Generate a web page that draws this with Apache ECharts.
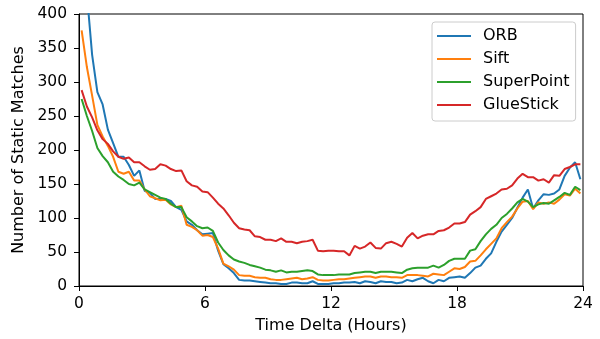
<!DOCTYPE html>
<html>
<head>
<meta charset="utf-8">
<script src="https://cdn.jsdelivr.net/npm/echarts@6/dist/echarts.min.js"></script>
<style>html,body{margin:0;padding:0;background:#fff}#c{width:600px;height:339px}</style>
</head>
<body>
<div id="c"></div>
<script>
const hours = [0.125,0.375,0.625,0.875,1.125,1.375,1.625,1.875,2.125,2.375,2.625,2.875,3.125,3.375,3.625,3.875,4.125,4.375,4.625,4.875,5.125,5.375,5.625,5.875,6.125,6.375,6.625,6.875,7.125,7.375,7.625,7.875,8.125,8.375,8.625,8.875,9.125,9.375,9.625,9.875,10.125,10.375,10.625,10.875,11.125,11.375,11.625,11.875,12.125,12.375,12.625,12.875,13.125,13.375,13.625,13.875,14.125,14.375,14.625,14.875,15.125,15.375,15.625,15.875,16.125,16.375,16.625,16.875,17.125,17.375,17.625,17.875,18.125,18.375,18.625,18.875,19.125,19.375,19.625,19.875,20.125,20.375,20.625,20.875,21.125,21.375,21.625,21.875,22.125,22.375,22.625,22.875,23.125,23.375,23.625,23.875];
const orb = [500,430,340,285,267,230,210,190,190,178,162,170,140,137,128,128,128,125,116,112,95,90,82,76,77,78,52,32,26,19,9,8,8,7,6,5,4,4,3,3,5,5,4,4,7,3,3,3,4,4,5,5,6,4,7,6,4,7,6,6,4,5,9,7,10,12,7,4,9,7,12,13,14,12,19,27,30,40,48,65,80,90,100,115,130,142,114,126,135,134,136,142,162,174,182,157];
const sift = [376,322,280,237,220,206,190,168,165,168,155,155,142,132,129,126,127,120,116,118,90,87,82,74,75,72,55,33,29,24,16,15,15,13,12,12,10,9,9,10,11,12,10,11,13,9,8,8,9,10,10,11,12,13,14,14,12,14,14,13,13,12,16,16,16,15,14,18,17,16,21,26,25,28,36,37,45,54,62,70,85,94,102,114,124,125,113,123,121,123,121,127,135,133,143,136];
const superPoint = [275,250,228,203,191,182,168,161,156,150,148,152,142,138,134,130,128,121,116,116,101,95,88,85,86,81,64,53,45,39,36,34,31,29,27,24,23,21,23,20,21,21,22,23,22,17,16,16,16,17,17,17,19,20,21,21,19,21,21,21,20,19,24,26,27,27,27,30,27,31,37,40,40,40,52,54,66,76,84,90,100,106,114,123,128,124,116,120,122,121,126,131,137,134,146,141];
const glueStick = [288,264,248,229,216,209,198,190,187,189,182,182,176,171,172,179,177,172,169,170,154,148,146,139,138,130,121,114,104,93,85,83,82,73,72,68,68,66,70,65,65,63,65,66,68,52,51,52,52,51,51,45,59,55,58,64,56,55,63,65,62,58,71,78,70,74,76,76,81,82,86,92,92,94,105,110,116,128,132,136,142,143,148,158,165,160,160,155,157,152,163,162,172,175,179,179];
const seriesNames = ['ORB','Sift','SuperPoint','GlueStick'];
const seriesValues = [orb, sift, superPoint, glueStick];
const colors = ['#1f77b4','#ff7f0e','#2ca02c','#d62728'];

const chart = echarts.init(document.getElementById('c'), null, {renderer:'canvas'});
const font = 'DejaVu Sans';
chart.setOption({
  animation:false,
  backgroundColor:'#fff',
  grid:{left:79,right:17,top:14,bottom:51,show:true,borderColor:'#000',borderWidth:1,backgroundColor:'transparent'},
  legend:{
    orient:'vertical', left:432, top:22,
    backgroundColor:'#fff', borderColor:'#cccccc', borderWidth:1, borderRadius:3,
    padding:[6,6,8,5], itemGap:7, itemWidth:34, itemHeight:2, icon:'rect',
    textStyle:{fontFamily:font,fontSize:16,color:'#000',lineHeight:16,padding:[0,0,0,7]},
    data:seriesNames
  },
  xAxis:{
    type:'value', min:0, max:24, interval:6,
    name:'Time Delta (Hours)', nameLocation:'middle', nameGap:32,
    nameTextStyle:{fontFamily:font,fontSize:16,color:'#000'},
    axisLine:{show:true,lineStyle:{color:'#000',width:1}},
    axisTick:{show:true,length:5,lineStyle:{color:'#000'}},
    axisLabel:{fontFamily:font,fontSize:15.5,color:'#000',margin:10},
    splitLine:{show:false}
  },
  yAxis:{
    type:'value', min:0, max:400, interval:50,
    name:'Number of Static Matches', nameLocation:'middle', nameGap:51,
    nameTextStyle:{fontFamily:font,fontSize:16,color:'#000'},
    axisLine:{show:true,lineStyle:{color:'#000',width:1}},
    axisTick:{show:true,length:5,lineStyle:{color:'#000'}},
    axisLabel:{fontFamily:font,fontSize:15.5,color:'#000',margin:12},
    splitLine:{show:false}
  },
  series: seriesNames.map((n,i)=>({
    name:n, type:'line', showSymbol:false, symbol:'none',
    color:colors[i],
    lineStyle:{width:2,color:colors[i]},
    clip:true,
    data: hours.map((h,j)=>[h, seriesValues[i][j]])
  }))
});
</script>
</body>
</html>
